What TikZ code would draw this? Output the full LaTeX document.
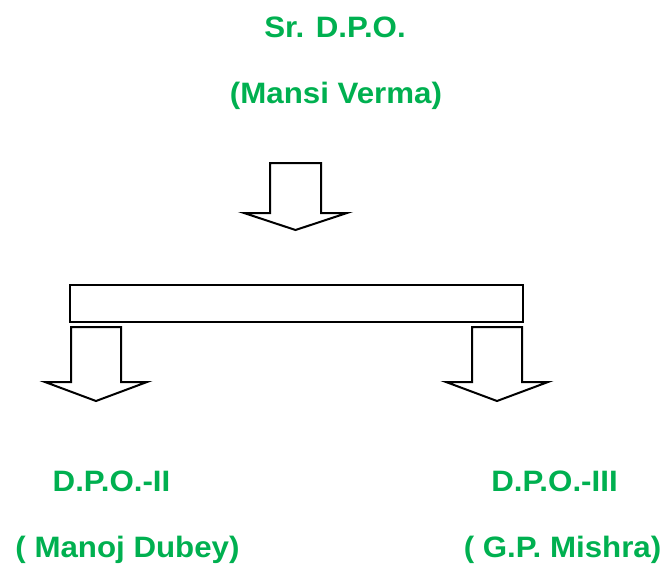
\documentclass[tikz,border=0pt]{standalone}
\usepackage{fontspec}
\setmainfont{Liberation Sans}
\definecolor{offgreen}{HTML}{00B050}
\tikzset{
  title/.style={anchor=base, inner sep=0pt, xscale=1.06, text=offgreen,
    font=\fontsize{29.5}{35}\selectfont\bfseries},
  blockline/.style={line width=2pt, fill=white, line join=miter}
}
\begin{document}
\begin{tikzpicture}[x=1pt, y=-1pt]
\useasboundingbox (0, 0) rectangle (668, 564);

\node[title] (sr) at (335, 38) {Sr. D.P.O.};
\node[title] (mansi) at (336, 104) {(Mansi Verma)};

% arrow from the top
\draw [blockline] (270, 163) -- (321, 163) -- (321, 213) -- (347, 213)
      -- (295.5, 230) -- (244, 213) -- (270, 213) -- cycle;

% bar
\draw [blockline] (70, 285) rectangle (523, 322);

% arrows below the bar
\draw [blockline] (71, 327) -- (121, 327) -- (121, 382) -- (147, 382)
      -- (96, 401) -- (45, 382) -- (71, 382) -- cycle;
\draw [blockline] (472, 327) -- (522, 327) -- (522, 382) -- (548, 382)
      -- (497, 401) -- (446, 382) -- (472, 382) -- cycle;

\node[title] (dpo2) at (111.5, 491) {D.P.O.-II};
\node[title] (manoj) at (127.5, 557) {( Manoj Dubey)};
\node[title] (dpo3) at (554.5, 491) {D.P.O.-III};
\node[title] (mishra) at (562.5, 557) {( G.P. Mishra)};
\end{tikzpicture}
\end{document}
